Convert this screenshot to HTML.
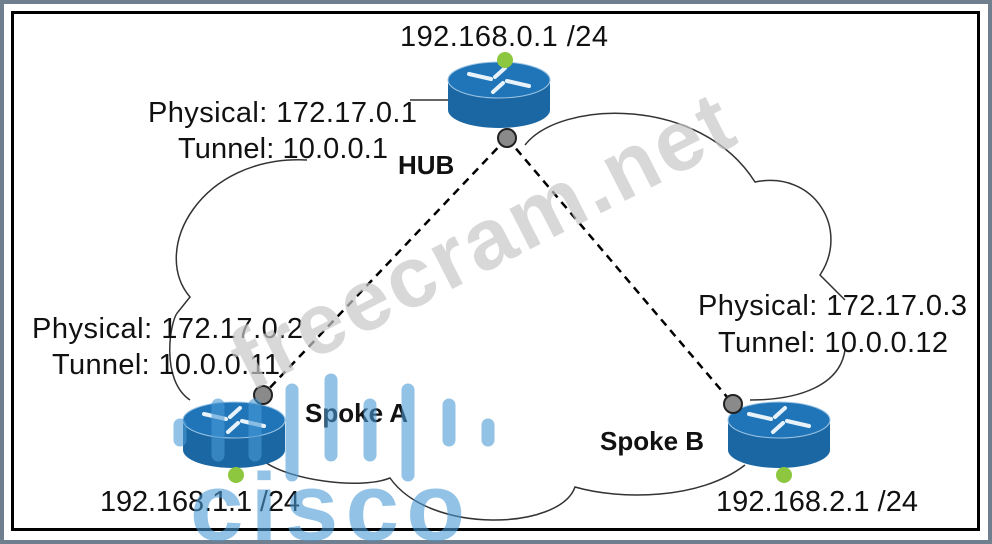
<!DOCTYPE html>
<html><head><style>
html,body{margin:0;padding:0;background:#fff;}
body{width:992px;height:544px;overflow:hidden;position:relative;}
svg{position:absolute;left:0;top:0;display:block;}
text{font-family:"Liberation Sans",sans-serif;}
</style></head><body>
<svg width="992" height="544" viewBox="0 0 992 544" overflow="hidden">
<rect x="0" y="0" width="992" height="544" fill="#6f7f8f"/>
<rect x="4" y="4" width="984" height="536" fill="#fff"/>
<g fill="none" stroke="#333" stroke-width="1.5">
<path d="M410 100 L448 100"/>
<path d="M525 145 C560 100 700 95 755 182 C815 170 850 230 820 275 L845 300"/>
<path d="M845 350 C840 385 800 400 750 400"/>
<path d="M745 465 C700 500 620 500 575 487 C560 530 430 535 390 478 C360 490 290 480 265 462"/>
<path d="M190 400 C160 380 170 320 178 312 L190 297 C150 250 200 155 307 160"/>
</g>
<g stroke="#000" stroke-width="2.5" stroke-dasharray="8,6" fill="none">
<line x1="507" y1="138" x2="263" y2="395"/>
<line x1="507" y1="138" x2="733" y2="404"/>
</g>
<defs>
<g id="r">
<path d="M-51 0 L-51 30 A51 18 0 0 0 51 30 L51 0 Z" fill="#1a67a3"/>
<ellipse cx="0" cy="0" rx="51" ry="18" fill="#1f75b8" stroke="#9cc4e4" stroke-width="1"/>
<g stroke="#e8f2fa" stroke-width="4" stroke-linecap="round">
<line x1="-30" y1="-6" x2="-8" y2="-1"/><line x1="30" y1="6" x2="8" y2="1"/>
<line x1="6" y1="-12" x2="-4" y2="-3"/><line x1="-6" y1="12" x2="4" y2="3"/>
</g>
</g>
</defs>
<use href="#r" x="499" y="80"/>
<use href="#r" x="234" y="420"/>
<use href="#r" x="779" y="420"/>
<circle cx="505" cy="60" r="8" fill="#8dc63f"/>
<circle cx="236" cy="475" r="8" fill="#8dc63f"/>
<circle cx="784" cy="475" r="8" fill="#8dc63f"/>
<g fill="#8a8a8a" stroke="#222" stroke-width="2">
<circle cx="507" cy="138" r="9"/><circle cx="263" cy="395" r="9"/><circle cx="733" cy="404" r="9"/>
</g>
<g font-size="29" fill="#111">
<text x="400" y="46" textLength="208">192.168.0.1 /24</text>
<text x="148" y="122" textLength="269">Physical: 172.17.0.1</text>
<text x="178" y="158" textLength="210">Tunnel: 10.0.0.1</text>
<text x="32" y="338" textLength="271">Physical: 172.17.0.2</text>
<text x="52" y="374" textLength="228">Tunnel: 10.0.0.11</text>
<text x="698" y="315" textLength="269">Physical: 172.17.0.3</text>
<text x="718" y="352" textLength="230">Tunnel: 10.0.0.12</text>
<text x="100" y="511" textLength="200">192.168.1.1 /24</text>
<text x="716" y="511" textLength="202">192.168.2.1 /24</text>
</g>
<g font-size="26" font-weight="bold" fill="#111">
<text x="398" y="174">HUB</text>
<text x="305" y="422">Spoke A</text>
<text x="600" y="450">Spoke B</text>
</g>
<text x="250" y="392" font-size="86" font-weight="bold" fill="#c8c8c8" fill-opacity="0.7" transform="rotate(-27 250 392)" textLength="550">freecram.net</text>
<g stroke="#4a9ad6" stroke-opacity="0.6" stroke-width="13" stroke-linecap="round">
<line x1="180" y1="425" x2="180" y2="440"/>
<line x1="218" y1="405" x2="218" y2="455"/>
<line x1="255" y1="405" x2="255" y2="455"/>
<line x1="292" y1="390" x2="292" y2="475"/>
<line x1="331" y1="380" x2="331" y2="455"/>
<line x1="370" y1="405" x2="370" y2="455"/>
<line x1="408" y1="390" x2="408" y2="475"/>
<line x1="449" y1="405" x2="449" y2="440"/>
<line x1="488" y1="425" x2="488" y2="440"/>
</g>
<rect x="0" y="540" width="992" height="4" fill="#6f7f8f"/>
<rect x="12.5" y="12.5" width="966" height="517" fill="none" stroke="#000" stroke-width="3"/>
<text x="190" y="540" font-size="96" font-weight="bold" fill="#4a9ad6" fill-opacity="0.6" textLength="275">cisco</text>
</svg>
</body></html>
